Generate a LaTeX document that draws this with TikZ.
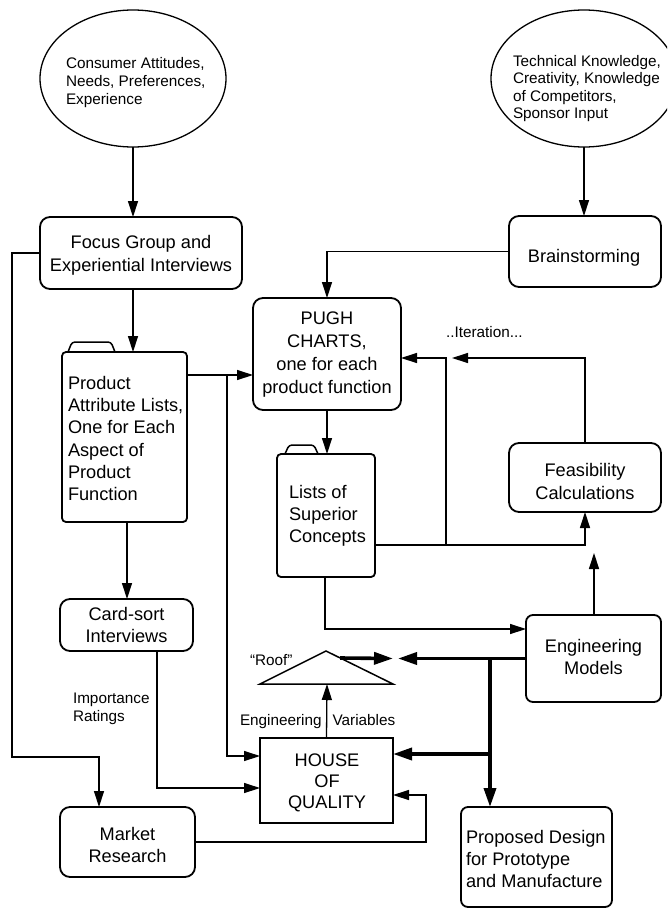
\documentclass[tikz,border=0pt]{standalone}
\usepackage{fontspec}
\setmainfont{Liberation Sans}
\usetikzlibrary{arrows.meta,calc,shapes.geometric}
\newcommand\fb[1]{\fontsize{18.2}{#1}\selectfont}
\newcommand\fsm[1]{\fontsize{15.3}{#1}\selectfont}
\begin{document}
\begin{tikzpicture}[x=1pt,y=-1pt,
  box/.style={draw, line width=1.8pt, rounded corners=10pt, inner sep=0pt, outer sep=0pt},
  oval/.style={draw, ellipse, line width=1.3pt, inner sep=0pt, outer sep=0pt, minimum width=186pt, minimum height=137pt},
  txt/.style={inner sep=0pt, outer sep=0pt},
  wire/.style={line width=1.3pt},
  con/.style={line width=1.3pt, -{Triangle[length=16pt,width=10pt]}},
  heavy/.style={line width=3.6pt, -{Triangle[length=19pt,width=12pt]}}
]
\useasboundingbox (0,0) rectangle (667,910);
\clip (0,0) rectangle (667,910);

% ---------- shapes ----------
\node[oval] (c1) at (133,78.5) {};
\node[oval] (c2) at (584,78.5) {};
\node[box, minimum width=202pt, minimum height=72pt] (focus) at (141,253) {};
\node[box, minimum width=152pt, minimum height=71pt] (brain) at (585,251.5) {};
\node[box, minimum width=148pt, minimum height=112pt] (pugh) at (327,354) {};
\node[box, minimum width=152pt, minimum height=69pt] (feas) at (585,477.5) {};
\node[box, rounded corners=7pt, minimum width=135pt, minimum height=87pt] (em) at (593.5,658.5) {};
\node[box, minimum width=133pt, minimum height=52pt] (card) at (126.5,625) {};
\node[box, minimum width=135pt, minimum height=70pt] (market) at (127.5,842) {};
\node[box, rounded corners=7pt, minimum width=151pt, minimum height=100pt] (proposed) at (536.5,857) {};
\node[draw, line width=2.4pt, inner sep=0pt, outer sep=0pt, minimum width=133pt, minimum height=85pt] (house) at (326.5,780.5) {};
% folders
\node[box, rounded corners=4pt, minimum width=125pt, minimum height=170pt] (product) at (124.5,437) {};
\draw[line width=1.5pt, rounded corners=3pt] (68,352) -- (72,342) -- (111,342) -- (115,352);
\node[box, rounded corners=4pt, minimum width=98pt, minimum height=123pt] (lists) at (326,515.5) {};
\draw[line width=1.5pt, rounded corners=3pt] (285,454) -- (289,445) -- (314,445) -- (318,454);
% roof
\coordinate (roofT) at (326,651);
\coordinate (roofL) at (260,684);
\coordinate (roofR) at (393,684);
\coordinate (roofB) at (327,684);
\draw[line width=1.5pt] (roofT) -- (roofR) -- (roofL) -- cycle;

% ---------- texts ----------
\node[txt, anchor=west, align=left, font=\fsm{17.7}] (c1t) at (66,83.1)
  {Consumer Attitudes,\strut\\Needs, Preferences,\\Experience\strut};
\node[txt, anchor=west, align=left, font=\fsm{17.2}] (c2t) at (513,89.1)
  {Technical Knowledge,\strut\\Creativity, Knowledge\\of Competitors,\\Sponsor Input\strut};
\node[txt, align=center, font=\fb{22.7}] (focust) at (141,255.8)
  {Focus Group and\strut\\Experiential Interviews\strut};
\node[txt, anchor=base, font=\fb{22}] (braint) at (584,262) {Brainstorming};
\node[txt, align=center, font=\fb{22.8}] (pught) at (327,354.6)
  {PUGH\strut\\CHARTS,\\one for each\\product function\strut};
\node[txt, anchor=west, align=left, font=\fb{22.34}] (productt) at (68,440.4)
  {Product\strut\\Attribute Lists,\\One for Each\\Aspect of\\Product\\Function\strut};
\node[txt, anchor=west, align=left, font=\fb{22}] (listst) at (289,515.9)
  {Lists of\strut\\Superior\\Concepts\strut};
\node[txt, align=center, font=\fb{22.3}] (feast) at (585,483.4)
  {Feasibility\strut\\Calculations\strut};
\node[txt, align=center, font=\fb{22}] (cardt) at (126.5,627.3)
  {Card-sort\strut\\Interviews\strut};
\node[txt, anchor=west, align=left, font=\fsm{18.4}] (impt) at (73,708.8)
  {Importance\strut\\Ratings\strut};
\node[txt, align=center, font=\fb{21.6}] (emt) at (593.5,659.2)
  {Engineering\strut\\Models\strut};
\node[txt, anchor=base west, font=\fsm{18}] (rooft) at (250,665) {“Roof”};
\node[txt, anchor=base west, font=\fsm{18}] (engt) at (240,725) {Engineering\hspace{11pt}Variables};
\node[txt, align=center, font=\fb{21}] (houset) at (327,782.8)
  {HOUSE\strut\\OF\\QUALITY\strut};
\node[txt, align=center, font=\fb{22.2}] (markett) at (127.5,846.7)
  {Market\strut\\Research\strut};
\node[txt, anchor=west, align=left, font=\fb{22}] (proposedt) at (466,860.9)
  {Proposed Design\strut\\for Prototype\\and Manufacture\strut};
\node[txt, anchor=base west, font=\fsm{18}] (itert) at (446,337) {..Iteration...};

% ---------- connectors ----------
\draw[con] (c1.south) -- (c1.south |- focus.north);
\draw[con] (c2.south) -- (c2.south |- brain.north);
\coordinate (lft) at (12,757);
\draw[con] (focus.west) -| (lft) -| ($(market.north)+(-28.5,0)$);
\draw[con] ($(focus.south)+(-8,0)$) -- ($(product.north)+(8.5,0)$);
\coordinate (pr) at ($(product.north east)+(0,23)$);
\draw[con] (pr) -- (pr -| pugh.west);
\coordinate (pa) at (227,375);
\draw[con] (pa) |- ($(house.north west)+(0,18)$);
\draw[con] (brain.west) -| (pugh.north);
\draw[con] (pugh.south) -- (pugh.south |- lists.north);
\coordinate (lr) at ($(lists.north east)+(0,91)$);
\draw[con] (lr) -| (feas.south);
\coordinate (jn) at (446,545);
\draw[con] (jn) |- ($(pugh.east)+(0,4)$);
\coordinate (itend) at (452,358);
\draw[con] (feas.north) |- (itend);
\coordinate (emup) at (594,553);
\draw[con] ($(em.north)+(0.5,0)$) -- (emup);
\draw[con] ($(lists.south)+(-1,0)$) |- ($(em.west)+(0,-29.5)$);
\coordinate (thL) at (398,658.5);
\coordinate (thR) at (393,658.5);
\draw[heavy] (em.west) -- (thL);
\draw[heavy] ($(roofT)!0.212!(roofR)$) -- (thR);
\coordinate (tj) at (490,658.5);
\draw[heavy] (tj) -- (tj |- proposed.north);
\coordinate (hb) at (490,754);
\draw[heavy] (hb) -- (hb -| house.east);
\draw[con] (house.north) -- (roofB);
\draw[con] ($(card.south)+(30.5,0)$) |- ($(house.west)+(0,7.5)$);
\draw[con] ($(product.south)+(2.5,0)$) -- ($(card.north)+(0.5,0)$);
\coordinate (mr) at (426,820);
\draw[con] (market.east) -| (mr) |- ($(house.east)+(0,14.5)$);
\end{tikzpicture}
\end{document}
